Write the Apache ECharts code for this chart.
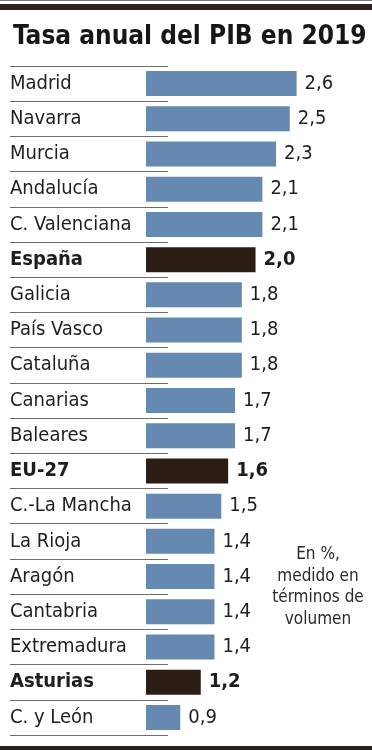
<!DOCTYPE html>
<html><head><meta charset="utf-8">
<script src="https://cdn.jsdelivr.net/npm/echarts@6/dist/echarts.min.js"></script>
<style>html,body{margin:0;padding:0;background:#fff}#c{width:372px;height:750px}</style>
</head><body><div id="c"></div>
<script>
const categories = ['Madrid','Navarra','Murcia','Andalucía','C. Valenciana','España','Galicia','País Vasco','Cataluña','Canarias','Baleares','EU-27','C.-La Mancha','La Rioja','Aragón','Cantabria','Extremadura','Asturias','C. y León'];
const values = [2.6,2.5,2.3,2.1,2.1,2.0,1.8,1.8,1.8,1.7,1.7,1.6,1.5,1.4,1.4,1.4,1.4,1.2,0.9];
const highlighted = ['España','EU-27','Asturias'];
const titleText = 'Tasa anual del PIB en 2019';
const noteText = 'En %,\nmedido en\ntérminos de\nvolumen';

const FONT = '"DejaVu Sans Condensed","DejaVu Sans",sans-serif';
const BLUE = '#6589b0', DARK = '#2b1d14', TXT = '#1e1e1e';

const chart = echarts.init(document.getElementById('c'), null, {renderer:'canvas'});
const barData = values.map((v,i)=>{
  const hi = highlighted.includes(categories[i]);
  return {value:v, itemStyle:{color: hi?DARK:BLUE}, label:{fontWeight: hi?'bold':'normal'}};
});
chart.setOption({
  animation:false,
  backgroundColor:'#fff',
  title:{text:titleText,left:8,top:19,textStyle:{fontFamily:FONT,fontSize:26,fontWeight:'bold',color:'#161616'}},
  grid:[
    {left:146,top:66,width:178,height:669},
    {left:10,top:66,width:158,height:669}
  ],
  xAxis:[
    {gridIndex:0,type:'value',min:0.4,max:3.0,show:false},
    {gridIndex:1,type:'value',min:0,max:1,show:false}
  ],
  yAxis:[
    {gridIndex:0,type:'category',data:categories,inverse:true,show:false},
    {gridIndex:1,type:'category',data:categories,inverse:true,
     axisLine:{show:false},axisTick:{show:false},
     splitLine:{show:true,lineStyle:{color:'#6e6e6e',width:1}},
     axisLabel:{inside:true,margin:0,align:'left',fontFamily:FONT,fontSize:20,color:TXT,
       formatter:(v)=>highlighted.includes(v)?'{b|'+v+'}':v,
       rich:{b:{fontFamily:FONT,fontSize:20,fontWeight:'bold',color:TXT}}}}
  ],
  series:[{
    type:'bar',xAxisIndex:0,yAxisIndex:0,data:barData,barWidth:25,
    label:{show:true,position:'right',distance:8,fontFamily:FONT,fontSize:20,color:TXT,
      formatter:(p)=>p.value.toFixed(1).replace('.',',')}
  }],
  graphic:[
    {type:'rect',shape:{x:0,y:0,width:372,height:1},style:{fill:'#777'}},
    {type:'rect',shape:{x:0,y:4,width:372,height:6},style:{fill:'#2a2420'}},
    {type:'rect',shape:{x:0,y:746,width:372,height:4},style:{fill:'#2a2420'}},
    {type:'text',x:318,y:544,style:{text:noteText,align:'center',fontFamily:FONT,fontSize:17,lineHeight:21.5,fill:'#2a2a2a'}}
  ]
});
</script></body></html>
